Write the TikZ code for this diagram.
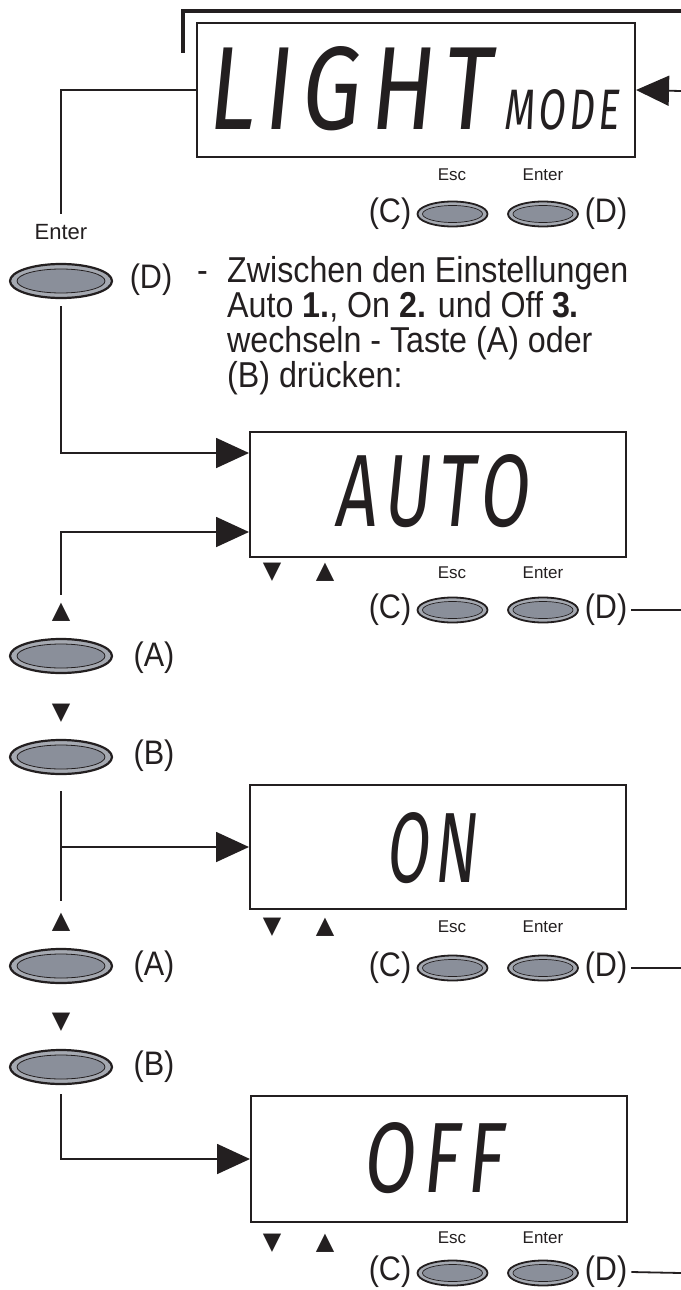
\documentclass[tikz,border=0pt]{standalone}
\usepackage{fontspec}
\usepackage{graphicx}
\setmainfont{Liberation Sans}
\newfontfamily\symfont{DejaVu Sans}
\newfontfamily\lcdfont{Fira Sans}[LetterSpace=10]
\usetikzlibrary{arrows.meta,shapes.geometric}
\definecolor{ink}{RGB}{35,31,32}
\definecolor{btnfill}{RGB}{138,143,154}
\definecolor{btnring}{RGB}{165,169,177}
\newcommand{\lcdtext}[3]{\resizebox{#1pt}{#2pt}{\lcdfont\fontsize{100}{100}\selectfont #3}}
\tikzset{
  lcdbox/.style={draw=ink, line width=2pt, rectangle, inner sep=0pt, minimum width=376pt},
  lcd/.style={inner sep=0pt, text=ink, xslant=0.1},
  conn/.style={draw=ink, line width=1.8pt},
  arr/.style={conn, -{Triangle[length=33pt,width=30pt]}},
  bigbtn/.style={ellipse, minimum width=102pt, minimum height=34pt, inner sep=0pt,
    fill=btnring, draw=ink, line width=2.2pt,
    path picture={\draw[ink, line width=0.8pt, fill=btnfill] (path picture bounding box.center) ellipse [x radius=44pt, y radius=12pt];}},
  smallbtn/.style={ellipse, minimum width=70pt, minimum height=25pt, inner sep=0pt,
    fill=btnring, draw=ink, line width=1.8pt,
    path picture={\draw[ink, line width=0.7pt, fill=btnfill] (path picture bounding box.center) ellipse [x radius=30pt, y radius=8.5pt];}},
  lbl/.style={font=\fontsize{34}{38}\selectfont, text=ink, inner sep=0pt, xscale=0.9},
  body/.style={font=\fontsize{36}{40}\selectfont, text=ink, inner sep=0pt, xscale=0.895, anchor=base west},
  keylbl/.style={font=\fontsize{17}{20}\selectfont, text=ink, inner sep=0pt},
  tri/.style={font=\symfont\fontsize{24}{24}\selectfont, text=ink, inner sep=0pt},
}
\begin{document}
\begin{tikzpicture}[x=1pt,y=-1pt]
\useasboundingbox (0,0) rectangle (680,1290);

% ---------- LIGHT MODE ----------
\coordinate (brA) at (183,53);
\coordinate (brB) at (682,11);
\draw[ink, line width=4pt] (brA) |- (brB);
\node[lcdbox, minimum width=438pt, minimum height=134pt] (lm) at (416,90) {};
\node[lcd] (lmT) at (352.5,88.5) {\lcdtext{283}{83}{LIGHT}};
\node[lcd] (lmM) at (563,110) {\lcdtext{116}{40}{MODE}};
\coordinate (inR) at (681,91);
\draw[arr] (inR) -- (lm.east);

\node[keylbl] (escT) at (452,175) {Esc};
\node[keylbl] (entT) at (543,175) {Enter};
\node[smallbtn] (cT) at (452.5,214) {};
\node[smallbtn] (dT) at (543,214) {};
\node[lbl] (cTl) at (390,214) {(C)};
\node[lbl] (dTl) at (606,214) {(D)};

% ---------- left: Enter / D ----------
\node[font=\fontsize{22}{22}\selectfont, text=ink, inner xsep=0pt, inner ysep=10pt] (entL) at (61,232) {Enter};
\draw[conn] (lm.west) -| (entL.north);
\node[bigbtn] (dL) at (61,281) {};
\node[lbl] (dLl) at (151,280) {(D)};
\node[body] (dash) at (197,282) {-};
\node[body] (t1) at (227,282) {Zwischen den Einstellungen};
\node[body] (t2) at (227,317) {Auto \textbf{1.}, On \textbf{2.} und Off \textbf{3.}};
\node[body] (t3) at (227,352) {wechseln - Taste (A) oder};
\node[body] (t4) at (227,387) {(B) drücken:};

% ---------- AUTO ----------
\node[lcdbox, minimum height=125pt] (auto) at (438,494.5) {};
\node[lcd] (autoT) at (435,491) {\lcdtext{193}{72}{AUTO}};
\draw[arr] ([yshift=-7pt]dL.south) |- ([yshift=41.5pt]auto.west);
\node[tri] (dnAu) at (272,572) {▼};
\node[tri] (upAu) at (325,572) {▲};
\node[keylbl] (escA) at (452,573) {Esc};
\node[keylbl] (entA) at (543,573) {Enter};
\node[smallbtn] (cA) at (452.5,610) {};
\node[smallbtn] (dA) at (543,610) {};
\node[lbl] (cAl) at (390,610) {(C)};
\node[lbl] (dAl) at (606,610) {(D)};
\coordinate (xA) at (681,610);
\draw[conn] ([xshift=4pt]dAl.east) -- (xA);

\node[tri] (up1) at (61,612) {▲};
\draw[arr] ([yshift=8pt]up1.north) |- ([yshift=-37.5pt]auto.west);
\node[bigbtn] (a1) at (61,656) {};
\node[lbl] (a1l) at (154,658) {(A)};
\node[tri] (dn1) at (61,713) {▼};
\node[bigbtn] (b1) at (61,757) {};
\node[lbl] (b1l) at (154,756) {(B)};

% ---------- ON ----------
\node[lcdbox, minimum height=124pt] (on) at (438,847) {};
\node[lcd] (onT) at (434,848) {\lcdtext{91}{70}{ON}};
\node[tri] (up2) at (61,922) {▲};
\draw[conn] ([yshift=-16pt]b1.south) -- ([yshift=12pt]up2.north);
\draw[arr] (b1.south |- on.west) -- (on.west);
\node[tri] (dnOn) at (272,927) {▼};
\node[tri] (upOn) at (325,927) {▲};
\node[keylbl] (escO) at (452,927) {Esc};
\node[keylbl] (entO) at (543,927) {Enter};
\node[smallbtn] (cO) at (452.5,968) {};
\node[smallbtn] (dO) at (543,968) {};
\node[lbl] (cOl) at (390,968) {(C)};
\node[lbl] (dOl) at (606,968) {(D)};
\coordinate (xO) at (681,968);
\draw[conn] ([xshift=4pt]dOl.east) -- (xO);

\node[bigbtn] (a2) at (61,966) {};
\node[lbl] (a2l) at (154,967) {(A)};
\node[tri] (dn2) at (61,1022) {▼};
\node[bigbtn] (b2) at (61,1067) {};
\node[lbl] (b2l) at (154,1067) {(B)};

% ---------- OFF ----------
\node[lcdbox, minimum height=126pt] (off) at (439,1159) {};
\node[lcd] (offT) at (436,1158) {\lcdtext{140}{70}{OFF}};
\draw[arr] ([yshift=-9pt]b2.south) |- (off.west);
\node[tri] (dnOf) at (272,1243) {▼};
\node[tri] (upOf) at (325,1243) {▲};
\node[keylbl] (escF) at (452,1238) {Esc};
\node[keylbl] (entF) at (543,1238) {Enter};
\node[smallbtn] (cF) at (452.5,1273) {};
\node[smallbtn] (dF) at (543,1273) {};
\node[lbl] (cFl) at (390,1272) {(C)};
\node[lbl] (dFl) at (606,1272) {(D)};
\coordinate (xF) at (681,1273);
\draw[conn] ([xshift=4pt]dFl.east) -- (xF);
\end{tikzpicture}
\end{document}
